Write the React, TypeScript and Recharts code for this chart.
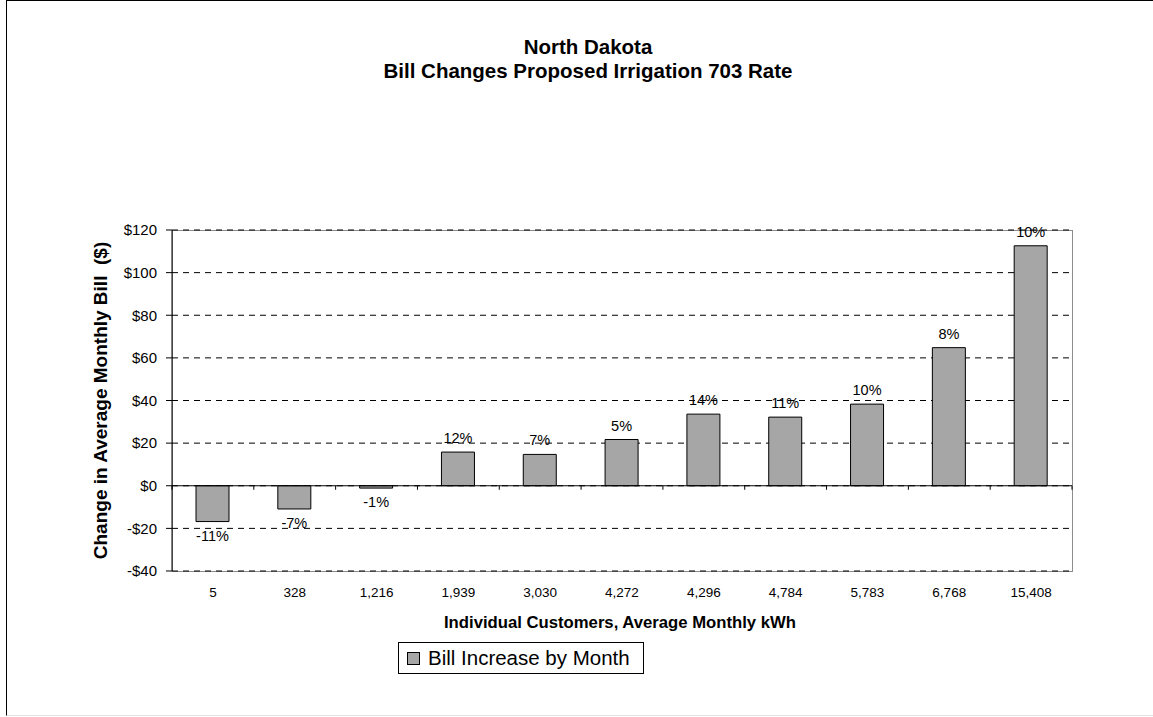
import {
  BarChart,
  Bar,
  XAxis,
  YAxis,
  CartesianGrid,
  Legend,
  LabelList,
  ReferenceLine,
} from 'recharts'

// customers' average monthly kWh (category axis)
const kwhLabels = ['5', '328', '1,216', '1,939', '3,030', '4,272', '4,296', '4,784', '5,783', '6,768', '15,408']
// change in average monthly bill, dollars
const billChange = [-16.8, -10.9, -1.1, 15.8, 14.7, 21.7, 33.6, 32.2, 38.3, 64.8, 112.6]
// percent change shown over each bar
const pctChange = ['-11%', '-7%', '-1%', '12%', '7%', '5%', '14%', '11%', '10%', '8%', '10%']
const yTicks = [-40, -20, 0, 20, 40, 60, 80, 100, 120]

const W = 1153
const H = 717
const PLOT_LEFT = 172
const PLOT_TOP = 230
const PLOT_RIGHT = 1072
const PLOT_BOTTOM = 571
const X_AXIS_H = 30
const Y_MIN = -40
const Y_MAX = 120
const FONT = '"Liberation Sans", Arial, sans-serif'

const data = kwhLabels.map((kwh, i) => ({
  kwh,
  change: billChange[i],
  pct: pctChange[i],
}))

const bandW = (PLOT_RIGHT - PLOT_LEFT) / kwhLabels.length
const zeroY = PLOT_TOP + ((PLOT_BOTTOM - PLOT_TOP) * Y_MAX) / (Y_MAX - Y_MIN)

const fmtDollar = (v: number) => (v < 0 ? `-$${Math.abs(v)}` : `$${v}`)

// category label at the bottom + excel style tick marks between categories on the $0 line
const renderXTick = (props: any) => {
  const { x, y, index, payload } = props
  const last = index === kwhLabels.length - 1
  return (
    <g>
      <line x1={x - bandW / 2} x2={x - bandW / 2} y1={zeroY} y2={zeroY + 4} stroke="#000" />
      {last && <line x1={x + bandW / 2} x2={x + bandW / 2} y1={zeroY} y2={zeroY + 4} stroke="#000" />}
      <text x={x} y={y + 26} textAnchor="middle" fontSize={13.5} fill="#000" fontFamily={FONT}>
        {payload.value}
      </text>
    </g>
  )
}

const renderPct = (props: any) => {
  const vb = props.viewBox || {}
  const x = props.x ?? vb.x
  const y = props.y ?? vb.y
  const width = props.width ?? vb.width
  const height = props.height ?? vb.height
  const top = Math.min(y, y + height)
  const bottom = Math.max(y, y + height)
  const neg = billChange[props.index] < 0
  return (
    <text
      x={x + width / 2}
      y={neg ? bottom + 14 : top - 14}
      textAnchor="middle"
      dominantBaseline="central"
      fontSize={14.5}
      fill="#000"
      fontFamily={FONT}
    >
      {props.value}
    </text>
  )
}

const renderLegend = () => (
  <div
    style={{
      boxSizing: 'border-box',
      width: 246,
      height: 32,
      border: '1px solid #000',
      background: '#fff',
      display: 'flex',
      alignItems: 'center',
      paddingLeft: 8,
      fontFamily: FONT,
      fontSize: 20.5,
      color: '#000',
    }}
  >
    <span
      style={{
        display: 'inline-block',
        width: 11,
        height: 11,
        background: '#a6a6a6',
        border: '1px solid #000',
        marginRight: 8,
      }}
    />
    Bill Increase by Month
  </div>
)

const App = () => {
  return (
    <div style={{ position: 'absolute', left: 0, top: 0, width: W, height: H, background: '#fff', fontFamily: FONT }}>
      {/* outer chart frame */}
      <div
        style={{
          position: 'absolute',
          left: 6,
          top: 0,
          width: W - 6,
          height: H - 1,
          borderLeft: '1.5px solid #000',
          borderTop: '1.5px solid #000',
          borderBottom: '1px solid #e4e4e4',
          boxSizing: 'border-box',
        }}
      />
      <div
        style={{
          position: 'absolute',
          left: 0,
          width: 1176,
          top: 35,
          textAlign: 'center',
          fontWeight: 'bold',
          fontSize: 20.5,
          lineHeight: '24px',
          color: '#000',
        }}
      >
        North Dakota
        <br />
        Bill Changes Proposed Irrigation 703 Rate
      </div>
      {/* plot area border */}
      <div
        style={{
          position: 'absolute',
          left: PLOT_LEFT,
          top: PLOT_TOP,
          width: PLOT_RIGHT - PLOT_LEFT + 1,
          height: PLOT_BOTTOM - PLOT_TOP + 1,
          border: '1px solid #8c8c8c',
          boxSizing: 'border-box',
        }}
      />
      <div style={{ position: 'absolute', left: 0, top: 0 }}>
        <BarChart
          width={W}
          height={H}
          data={data}
          margin={{
            top: PLOT_TOP,
            right: W - PLOT_RIGHT,
            bottom: H - PLOT_BOTTOM - X_AXIS_H,
            left: 0,
          }}
        >
          <CartesianGrid vertical={false} stroke="#000" strokeDasharray="6 5" />
          <XAxis
            dataKey="kwh"
            height={X_AXIS_H}
            axisLine={false}
            tickLine={false}
            tickSize={0}
            tickMargin={0}
            interval={0}
            tick={renderXTick}
            label={(p: any) => (
              <text
                x={PLOT_LEFT + (PLOT_RIGHT - PLOT_LEFT) / 2 - 2}
                y={PLOT_BOTTOM + 57}
                textAnchor="middle"
                fontSize={16.7}
                fontWeight="bold"
                fill="#000"
                fontFamily={FONT}
              >
                Individual Customers, Average Monthly kWh
              </text>
            )}
          />
          <YAxis
            width={PLOT_LEFT}
            domain={[Y_MIN, Y_MAX]}
            ticks={yTicks}
            interval={0}
            tickFormatter={fmtDollar}
            axisLine={{ stroke: '#000' }}
            tickLine={{ stroke: '#000' }}
            tickSize={6}
            tickMargin={9}
            tick={{ fontSize: 15, fill: '#000', fontFamily: FONT }}
            label={(p: any) => (
              <text
                x={100}
                y={(PLOT_TOP + PLOT_BOTTOM) / 2}
                transform={`rotate(-90, 100, ${(PLOT_TOP + PLOT_BOTTOM) / 2})`}
                textAnchor="middle"
                dominantBaseline="central"
                fontSize={19}
                fontWeight="bold"
                fill="#000"
                fontFamily={FONT}
                style={{ whiteSpace: 'pre' }}
              >
                {'Change in Average Monthly Bill  ($)'}
              </text>
            )}
          />
          <Bar dataKey="change" fill="#a6a6a6" stroke="#000" strokeWidth={1} barSize={33} isAnimationActive={false}>
            <LabelList dataKey="pct" content={renderPct} />
          </Bar>
          <ReferenceLine y={0} stroke="#000" strokeWidth={1} />
          <Legend
            layout="horizontal"
            align="center"
            verticalAlign="middle"
            wrapperStyle={{ left: 398, top: 642, width: 246, height: 32 }}
            content={renderLegend}
          />
        </BarChart>
      </div>
    </div>
  )
}

export default App
